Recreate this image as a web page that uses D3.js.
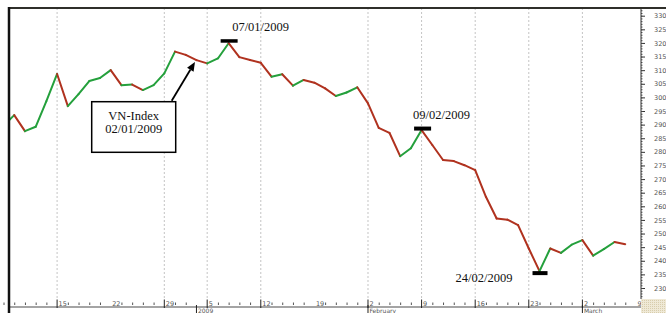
<!DOCTYPE html>
<html>
<head>
  <meta charset="utf-8">
  <script src="https://d3js.org/d3.v7.min.js"></script>
  <style>
    body {
      margin: 0;
      background: #fff;
    }
    .tiny {
      font-family: 'DejaVu Sans', sans-serif;
      font-size: 6.5px;
      fill: #555;
    }
    .note {
      font-family: 'Liberation Serif', serif;
      font-size: 12.5px;
      fill: #111;
    }
  </style>
</head>
<body>
<script type="text/javascript">
  "use strict";

  /* trading days (dd/mm), Tet break between 23/01 and 02/02 */
  var days = ["08/12", "09/12", "10/12", "11/12", "12/12",
              "15/12", "16/12", "17/12", "18/12", "19/12",
              "22/12", "23/12", "24/12", "25/12", "26/12",
              "29/12", "30/12", "31/12", "02/01",
              "05/01", "06/01", "07/01", "08/01", "09/01",
              "12/01", "13/01", "14/01", "15/01", "16/01",
              "19/01", "20/01", "21/01", "22/01", "23/01",
              "02/02", "03/02", "04/02", "05/02", "06/02",
              "09/02", "10/02", "11/02", "12/02", "13/02",
              "16/02", "17/02", "18/02", "19/02", "20/02",
              "23/02", "24/02", "25/02", "26/02", "27/02",
              "02/03", "03/03", "04/03", "05/03", "06/03",
              "09/03"];

  /* VN-Index close */
  var closes = [289.5, 293.5, 287.6, 289.2, 298.6,
                308.6, 296.8, 301.2, 306.0, 307.1,
                310.0, 304.5, 304.7, 302.7, 304.5,
                308.8, 316.8, 315.6, 313.7,
                312.5, 314.3, 319.9, 314.8, 313.7,
                312.7, 307.6, 308.5, 304.3, 306.4,
                305.4, 303.3, 300.5, 301.8, 303.7,
                297.8, 288.8, 287.0, 278.4, 281.3,
                288.0, 282.5, 277.0, 276.6, 275.1,
                273.3, 263.5, 255.5, 255.1, 253.1,
                244.5, 236.2, 244.5, 242.9, 245.9,
                247.6, 241.9, 244.3, 246.9, 246.1];

  var gridDays = ["15/12", "29/12", "05/01", "12/01", "02/02", "09/02", "16/02", "23/02", "02/03"];
  var tickDays = ["15/12", "22/12", "29/12", "05/01", "12/01", "19/01", "02/02", "09/02", "16/02", "23/02", "02/03", "09/03"];
  var tickText = ["15", "22", "29", "5", "12", "19", "2", "9", "16", "23", "2", "9"];
  var monthDays = ["02/01", "02/02", "02/03"];
  var monthText = ["2009", "February", "March"];
  var yTicks = d3.range(230, 331, 5);

  var markDays = ["07/01", "09/02", "24/02"];
  var markText = ["07/01/2009", "09/02/2009", "24/02/2009"];
  var boxDay = "02/01";
  var boxText = ["VN-Index", "02/01/2009"];

  /*
    Layout
  */
  var W = 666, H = 313;
  var plotL = 9, plotR = 641, plotT = 8, plotB = 299;

  var svg = d3.select("body")
    .append("svg")
      .attr("width", W)
      .attr("height", H);

  var x = d3.scalePoint()
    .domain(days)
    .range([3.5, 636]);

  var y = d3.scaleLinear()
    .domain([230, 330])
    .range([288, 15.7]);

  svg.append("defs")
    .append("clipPath")
      .attr("id", "plot")
    .append("rect")
      .attr("x", plotL)
      .attr("y", plotT)
      .attr("width", plotR - plotL)
      .attr("height", plotB - plotT);

  // dotted weekly grid
  svg.selectAll(".grid")
    .data(gridDays)
    .enter()
    .append("line")
      .attr("x1", function (d) { return x(d); })
      .attr("x2", function (d) { return x(d); })
      .attr("y1", plotT)
      .attr("y2", plotB)
      .attr("stroke", "#c4c4c4")
      .attr("stroke-width", 1)
      .attr("stroke-dasharray", "2,2");

  // price line, green up / red down
  var pts = closes.map(function (v, i) { return [x(days[i]), y(v), v]; });
  svg.append("g")
      .attr("clip-path", "url(#plot)")
    .selectAll("line")
    .data(d3.pairs(pts))
    .enter()
    .append("line")
      .attr("x1", function (d) { return d[0][0]; })
      .attr("y1", function (d) { return d[0][1]; })
      .attr("x2", function (d) { return d[1][0]; })
      .attr("y2", function (d) { return d[1][1]; })
      .attr("stroke", function (d) { return d[1][2] >= d[0][2] ? "#24a03c" : "#b0321f"; })
      .attr("stroke-width", 2)
      .attr("stroke-linecap", "round");

  /*
    Right value axis
  */
  var yAxis = svg.append("g")
    .attr("transform", "translate(" + plotR + ",0)")
    .call(d3.axisRight(y).tickValues(yTicks).tickSize(4).tickPadding(9));
  yAxis.select(".domain").remove();
  yAxis.selectAll("line").attr("stroke", "#333");
  yAxis.selectAll("text")
    .attr("class", "tiny")
    .attr("fill", null);
  yAxis.attr("font-family", null).attr("font-size", null);

  var yMinor = svg.append("g")
    .attr("transform", "translate(" + plotR + ",0)")
    .call(d3.axisRight(y).tickValues(d3.range(226, 333, 1)).tickSize(1.5).tickFormat(""));
  yMinor.select(".domain").remove();
  yMinor.selectAll("line").attr("stroke", "#555");

  svg.append("line")
    .attr("x1", plotR).attr("x2", plotR)
    .attr("y1", plotT).attr("y2", plotB)
    .attr("stroke", "#333")
    .attr("stroke-width", 1);

  /*
    Bottom day axis
  */
  svg.append("line")
    .attr("x1", plotL).attr("x2", plotR)
    .attr("y1", 307).attr("y2", 307)
    .attr("stroke", "#a4a4a4")
    .attr("stroke-width", 2);

  var minorDays = days.filter(function (d) { return tickDays.indexOf(d) < 0 && monthDays.indexOf(d) < 0; });
  var xMinor = svg.append("g")
    .attr("transform", "translate(0,302.5)")
    .call(d3.axisBottom(x).tickValues(minorDays).tickSize(2.5).tickFormat(""));
  xMinor.select(".domain").remove();
  xMinor.selectAll("line").attr("stroke", "#555");

  svg.selectAll(".bar")
    .data(gridDays)
    .enter()
    .append("line")
      .attr("x1", function (d) { return x(d); })
      .attr("x2", function (d) { return x(d); })
      .attr("y1", 299.5)
      .attr("y2", 308)
      .attr("stroke", "#222")
      .attr("stroke-width", 1);

  svg.selectAll(".month-bar")
    .data(monthDays)
    .enter()
    .append("line")
      .attr("x1", function (d) { return x(d); })
      .attr("x2", function (d) { return x(d); })
      .attr("y1", 305)
      .attr("y2", H)
      .attr("stroke", "#222")
      .attr("stroke-width", 1);

  svg.selectAll(".day-label")
    .data(tickDays)
    .enter()
    .append("text")
      .attr("class", "tiny")
      .attr("x", function (d) { return x(d) + 1.5; })
      .attr("y", 305.5)
      .text(function (d, i) { return tickText[i]; });

  svg.selectAll(".month-label")
    .data(monthDays)
    .enter()
    .append("text")
      .attr("class", "tiny")
      .attr("x", function (d) { return x(d) + 1.5; })
      .attr("y", 313)
      .style("font-size", "6px")
      .text(function (d, i) { return monthText[i]; });

  // corner patch under the value axis
  var pat = svg.select("defs").append("pattern")
    .attr("id", "dots")
    .attr("width", 2).attr("height", 2)
    .attr("patternUnits", "userSpaceOnUse");
  pat.append("rect").attr("width", 2).attr("height", 2).attr("fill", "#efe9d6");
  pat.append("rect").attr("width", 1).attr("height", 1).attr("fill", "#d8cdad");
  svg.append("rect")
    .attr("x", plotR).attr("y", plotB)
    .attr("width", W - plotR).attr("height", H - plotB)
    .attr("fill", "url(#dots)");

  // frame
  svg.append("line")
    .attr("x1", plotL - 1).attr("x2", W)
    .attr("y1", plotT).attr("y2", plotT)
    .attr("stroke", "#2f2f2a")
    .attr("stroke-width", 2);
  svg.append("line")
    .attr("x1", plotL).attr("x2", plotL)
    .attr("y1", plotT - 1).attr("y2", H)
    .attr("stroke", "#111")
    .attr("stroke-width", 2.5);

  /*
    Annotations
  */
  function val(d) { return closes[days.indexOf(d)]; }

  // 07/01 peak
  var p0 = markDays[0];
  svg.append("rect")
    .attr("x", x(p0) - 8).attr("y", y(val(p0)) - 4)
    .attr("width", 17).attr("height", 3.5)
    .attr("fill", "#000");
  svg.append("text")
    .attr("class", "note")
    .attr("x", x(p0) + 3.5)
    .attr("y", y(val(p0)) - 12)
    .text(markText[0]);

  // 09/02 rebound
  var p1 = markDays[1];
  svg.append("rect")
    .attr("x", x(p1) - 7.5).attr("y", y(val(p1)) - 3.5)
    .attr("width", 17).attr("height", 4)
    .attr("fill", "#000");
  svg.append("text")
    .attr("class", "note")
    .attr("x", x(p1) - 8.5)
    .attr("y", y(val(p1)) - 11.5)
    .text(markText[1]);

  // 24/02 bottom
  var p2 = markDays[2];
  svg.append("rect")
    .attr("x", x(p2) - 7).attr("y", y(val(p2)))
    .attr("width", 15).attr("height", 4)
    .attr("fill", "#000");
  svg.append("text")
    .attr("class", "note")
    .attr("text-anchor", "end")
    .attr("x", x(p2) - 27)
    .attr("y", y(val(p2)) + 11)
    .text(markText[2]);

  // boxed label with arrow
  var bx = 91.7, by = 101.7, bw = 84, bh = 50.6;
  svg.append("rect")
    .attr("x", bx).attr("y", by)
    .attr("width", bw).attr("height", bh)
    .attr("fill", "#fff")
    .attr("stroke", "#000")
    .attr("stroke-width", 1.5);
  svg.selectAll(".box-text")
    .data(boxText)
    .enter()
    .append("text")
      .attr("class", "note")
      .attr("text-anchor", "middle")
      .attr("x", bx + bw / 2)
      .attr("y", function (d, i) { return by + 18 + i * 13; })
      .text(function (d) { return d; });

  var tipX = x(boxDay) - 1.5, tipY = y(val(boxDay)) + 2;
  var tailX = bx + bw - 4, tailY = by - 1;
  var ang = Math.atan2(tipY - tailY, tipX - tailX);
  var hl = 9, hw = 3.8;
  var baseX = tipX - hl * Math.cos(ang), baseY = tipY - hl * Math.sin(ang);
  svg.append("line")
    .attr("x1", tailX).attr("y1", tailY)
    .attr("x2", baseX).attr("y2", baseY)
    .attr("stroke", "#000")
    .attr("stroke-width", 1.8);
  svg.append("path")
    .attr("d", "M" + tipX + "," + tipY +
      "L" + (baseX + hw * Math.sin(ang)) + "," + (baseY - hw * Math.cos(ang)) +
      "L" + (baseX - hw * Math.sin(ang)) + "," + (baseY + hw * Math.cos(ang)) + "Z")
    .attr("fill", "#000");
</script>
</body>
</html>
